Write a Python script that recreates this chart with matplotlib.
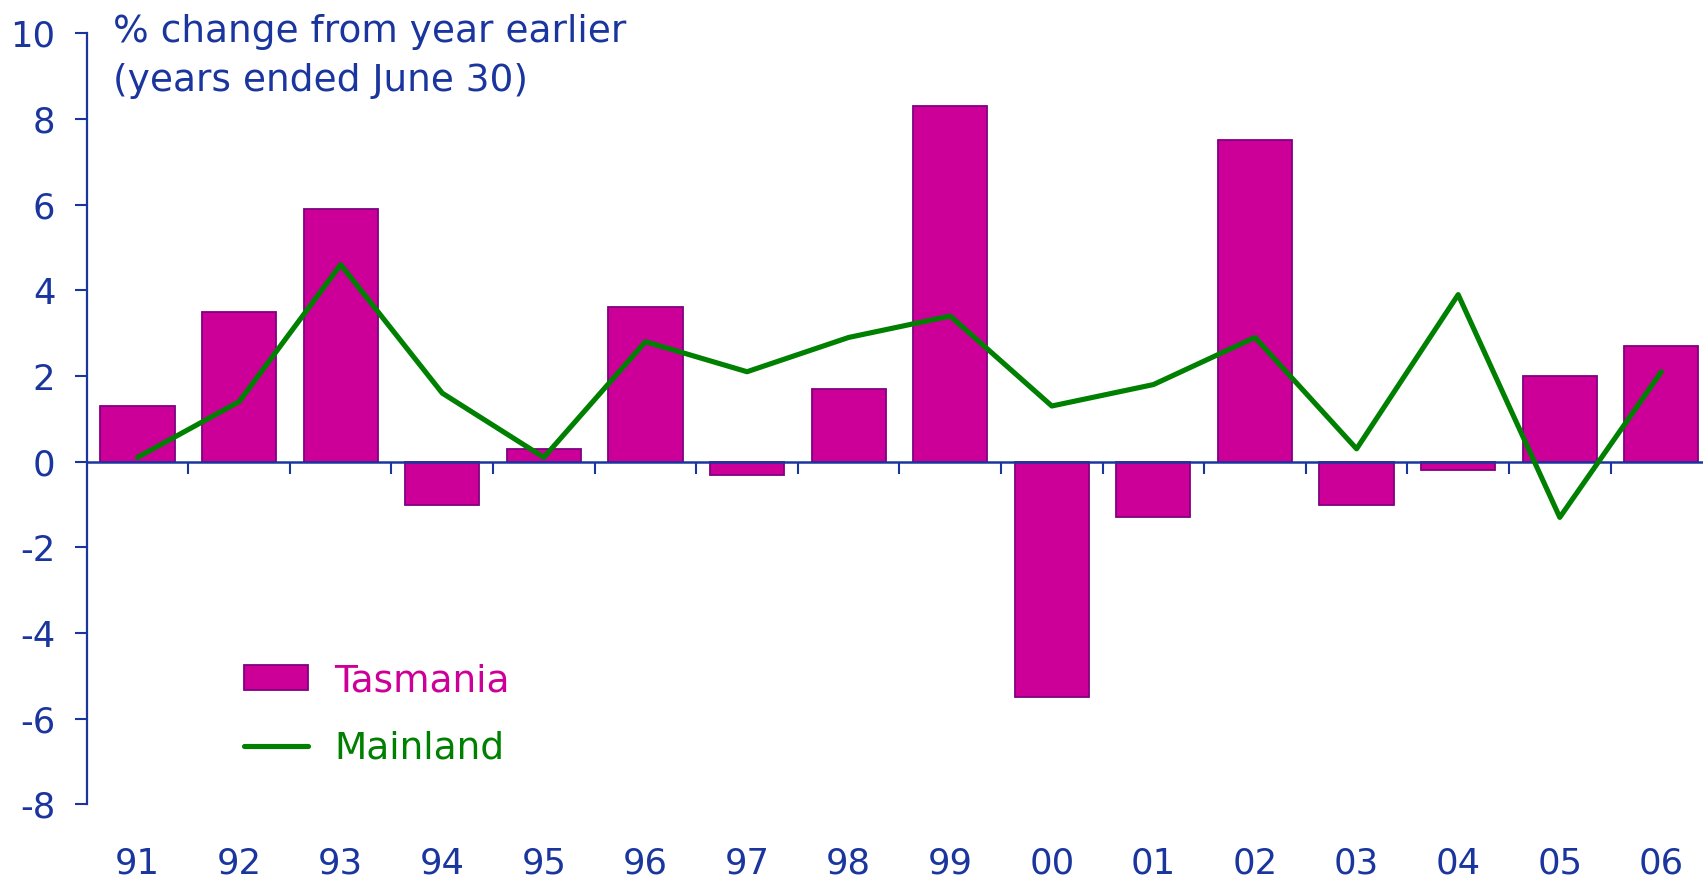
import numpy as np
import matplotlib
matplotlib.use("Agg")
import matplotlib.pyplot as plt

# Data (years ended June 30)
years = ["91", "92", "93", "94", "95", "96", "97", "98",
         "99", "00", "01", "02", "03", "04", "05", "06"]
tasmania = [1.3, 3.5, 5.9, -1.0, 0.3, 3.6, -0.3, 1.7,
            8.3, -5.5, -1.3, 7.5, -1.0, -0.2, 2.0, 2.7]
mainland = [0.1, 1.4, 4.6, 1.6, 0.1, 2.8, 2.1, 2.9,
            3.4, 1.3, 1.8, 2.9, 0.3, 3.9, -1.3, 2.1]
y_ticks = [10, 8, 6, 4, 2, 0, -2, -4, -6, -8]

blue = "#1a369e"
magenta = "#cc0099"
green = "#008000"

plt.rcParams["font.family"] = "DejaVu Sans"

W, H = 1703, 877
fig = plt.figure(figsize=(W / 100, H / 100), dpi=100)
ax = fig.add_axes([86.7 / W, 1 - 804.4 / H, 1 - 86.7 / W, (804.4 - 33.3) / H])

x = np.arange(len(years))
bars = ax.bar(x, tasmania, width=0.73, color=magenta, edgecolor="#800080",
              linewidth=1.3, zorder=1, label="Tasmania")
line, = ax.plot(x, mainland, color=green, linewidth=3.7, zorder=3,
                solid_capstyle="round", label="Mainland")

ax.set_xlim(-0.5, 15.41)
ax.set_ylim(-8, 10)

for s in ["top", "right"]:
    ax.spines[s].set_visible(False)
ax.spines["left"].set_color(blue)
ax.spines["left"].set_linewidth(1.6)
ax.spines["bottom"].set_color(blue)
ax.spines["bottom"].set_linewidth(1.8)
ax.spines["bottom"].set_position(("data", 0))
ax.spines["bottom"].set_zorder(2.5)

ax.set_yticks(y_ticks)
ax.set_yticklabels([str(v) for v in y_ticks])
ax.tick_params(axis="y", colors=blue, labelsize=25.5, length=8.6, width=1.5, pad=14)

ax.set_xticks(np.arange(0.5, len(years) - 1, 1))
ax.set_xticklabels([])
ax.tick_params(axis="x", colors=blue, length=8.6, width=1.5, direction="out")

# category labels along the bottom
sec = ax.secondary_xaxis("bottom")
sec.set_xticks(x)
sec.set_xticklabels(years)
sec.spines["bottom"].set_visible(False)
sec.tick_params(axis="x", colors=blue, labelsize=25.5, length=0, pad=30)

fig.text(113 / W, 1 - 41.7 / H, "% change from year earlier", color=blue,
         fontsize=27, va="baseline", ha="left")
fig.text(113 / W, 1 - 90.7 / H, "(years ended June 30)", color=blue,
         fontsize=27, va="baseline", ha="left")

leg = ax.legend(handles=[bars, line], loc="upper left",
                bbox_to_anchor=(244 / W, 1 - 663 / H),
                bbox_transform=fig.transFigure, frameon=False,
                fontsize=27, borderpad=0, borderaxespad=0,
                handlelength=1.7, handleheight=0.64, handletextpad=0.7,
                labelspacing=0.84, labelcolor=[magenta, green])

fig.savefig("out.png", dpi=100)
